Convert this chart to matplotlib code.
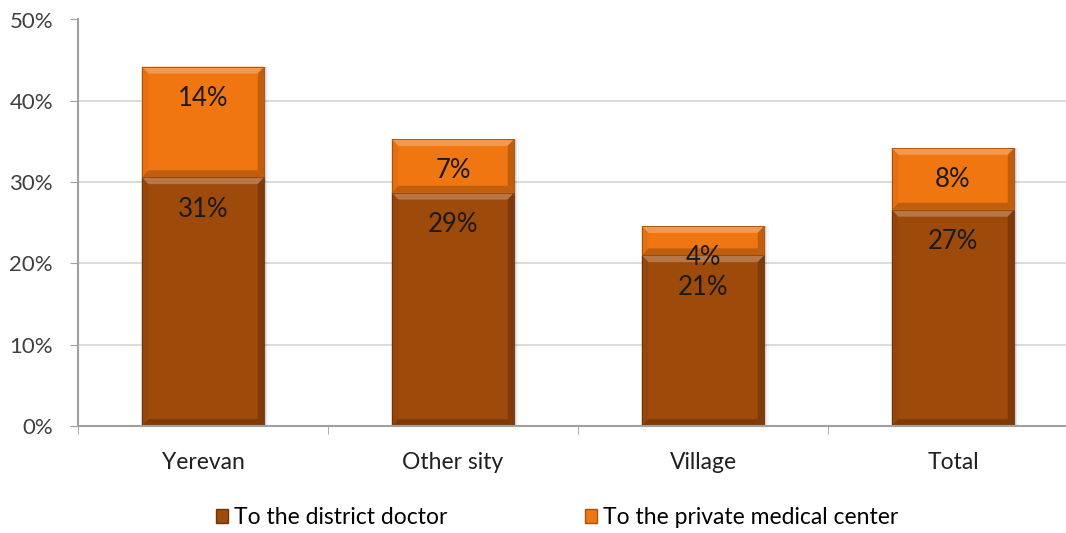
import matplotlib
matplotlib.use("Agg")
import matplotlib.pyplot as plt
from matplotlib.patches import Polygon, Rectangle, Patch
from matplotlib.colors import to_rgb

categories = ["Yerevan", "Other sity", "Village", "Total"]
district_doctor = [30.6, 28.7, 21.0, 26.6]
private_center = [13.6, 6.6, 3.6, 7.6]
series_names = ["To the district doctor", "To the private medical center"]
y_ticks = [0, 10, 20, 30, 40, 50]

DARK = "#9E4A0B"
ORANGE = "#F07612"
FONT = "Lato"


def shade(color, amount):
    # amount > 0 mixes toward white, < 0 toward black
    r, g, b = to_rgb(color)
    if amount >= 0:
        return (r + (1 - r) * amount, g + (1 - g) * amount, b + (1 - b) * amount)
    return (r * (1 + amount), g * (1 + amount), b * (1 + amount))


def bevel_bar(ax, x, bottom, height, width, color, bx=0.026, by=0.85):
    x0, x1 = x - width / 2, x + width / 2
    y0, y1 = bottom, bottom + height
    # soft shadow on the right
    for i, a in enumerate([0.10, 0.06, 0.03]):
        ax.add_patch(Rectangle((x0 + 0.006 * (i + 1), y0), width, height,
                               facecolor="black", alpha=a, lw=0, zorder=2))
    ax.add_patch(Rectangle((x0, y0), width, height, facecolor=color, lw=0, zorder=3))
    faces = [
        ([(x0, y1), (x1, y1), (x1 - bx, y1 - by), (x0 + bx, y1 - by)], shade(color, 0.25)),
        ([(x0, y0), (x1, y0), (x1 - bx, y0 + by), (x0 + bx, y0 + by)], shade(color, -0.2)),
        ([(x0, y0), (x0, y1), (x0 + bx, y1 - by), (x0 + bx, y0 + by)], shade(color, -0.05)),
        ([(x1, y0), (x1, y1), (x1 - bx, y1 - by), (x1 - bx, y0 + by)], shade(color, -0.2)),
    ]
    for pts, c in faces:
        ax.add_patch(Polygon(pts, closed=True, facecolor=c, lw=0, zorder=4))
    ax.add_patch(Rectangle((x0, y0), width, height, facecolor="none",
                           edgecolor=shade(color, -0.35), lw=0.6, zorder=5))


fig = plt.figure(figsize=(10.66, 5.33), dpi=100)
ax = fig.add_axes([78 / 1066, 107 / 533, 1000 / 1066, 406.5 / 533])

width = 0.49
for i, cat in enumerate(categories):
    bevel_bar(ax, i, 0, district_doctor[i], width, DARK)
    bevel_bar(ax, i, district_doctor[i], private_center[i], width, ORANGE)
    for base, val in [(0, district_doctor[i]), (district_doctor[i], private_center[i])]:
        ax.annotate(f"{round(val)}%", (i, base + val), xytext=(0, -23),
                    textcoords="offset points", ha="center", va="center",
                    fontsize=18.5, family=FONT, color="#1a1a1a", zorder=6)

ax.set_xlim(-0.5, len(categories) - 0.5)
ax.set_ylim(0, 50)
ax.set_yticks(y_ticks)
ax.set_yticklabels([f"{t}%" for t in y_ticks], family=FONT, fontsize=16, color="#404040")
ax.set_xticks(range(len(categories)))
ax.set_xticklabels(categories, family=FONT, fontsize=16.5, color="#202020")
ax.set_xticks([i + 0.5 for i in range(-1, len(categories))], minor=True)
ax.tick_params(axis="x", which="major", length=0, pad=19)
ax.tick_params(axis="x", which="minor", length=6, color="#A0A0A0", direction="out")
ax.tick_params(axis="y", length=6, color="#A0A0A0", pad=12)

ax.grid(axis="y", color="#D4D4D4", lw=1.2)
ax.set_axisbelow(True)
for side in ["top", "right"]:
    ax.spines[side].set_visible(False)
for side in ["left", "bottom"]:
    ax.spines[side].set_color("#A0A0A0")
    ax.spines[side].set_linewidth(1.5)
    ax.spines[side].set_zorder(7)

handles = [Patch(facecolor=DARK, edgecolor=shade(DARK, -0.3)),
           Patch(facecolor=ORANGE, edgecolor=shade(ORANGE, -0.3))]
fig.legend(handles, series_names, loc="center", bbox_to_anchor=(557 / 1066, 1 - 518 / 533),
           ncol=2, frameon=False, handlelength=0.55, handleheight=0.55, handletextpad=0.25,
           columnspacing=6.0, prop={"family": FONT, "size": 16.5})

fig.savefig("out.png", dpi=100)
